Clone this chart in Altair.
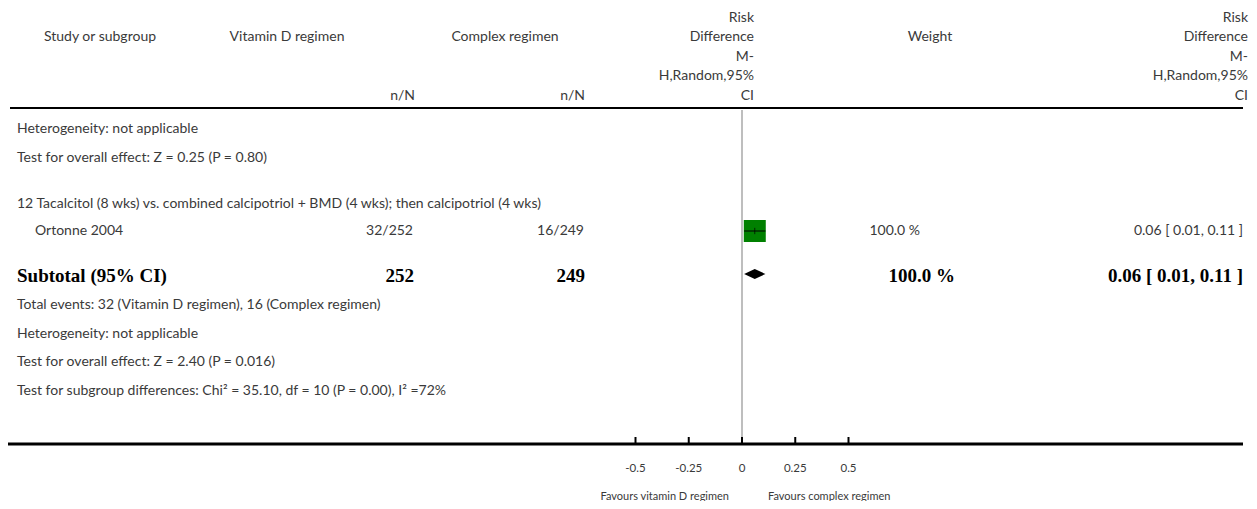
import altair as alt
import pandas as pd

# ---------------- data ----------------
col_study = "Study or subgroup"
col_exp = "Vitamin D regimen"
col_ctl = "Complex regimen"
col_weight = "Weight"
nN_label = "n/N"
rd_header_lines = ["Risk", "Difference", "M-", "H,Random,95%", "CI"]

pre_lines = ["Heterogeneity: not applicable",
             "Test for overall effect: Z = 0.25 (P = 0.80)"]
subgroup_title = "12 Tacalcitol (8 wks) vs. combined calcipotriol + BMD (4 wks); then calcipotriol (4 wks)"

studies = ["Ortonne 2004"]
vitd_events = [32]
vitd_total = [252]
comp_events = [16]
comp_total = [249]
weights = [100.0]
rd_est = [0.06]
rd_lo = [0.01]
rd_hi = [0.11]

subtotal_label = "Subtotal (95% CI)"
subtotal_n1 = [252]
subtotal_n2 = [249]
subtotal_weight = [100.0]
subtotal_est = [0.06]
subtotal_lo = [0.01]
subtotal_hi = [0.11]

post_lines = ["Total events: 32 (Vitamin D regimen), 16 (Complex regimen)",
              "Heterogeneity: not applicable",
              "Test for overall effect: Z = 2.40 (P = 0.016)",
              "Test for subgroup differences: Chi\u00b2 = 35.10, df = 10 (P = 0.00), I\u00b2 =72%"]

tick_values = [-0.5, -0.25, 0, 0.25, 0.5]
tick_labels = ["-0.5", "-0.25", "0", "0.25", "0.5"]
favours_left = "Favours vitamin D regimen"
favours_right = "Favours complex regimen"

# ---------------- layout (page pixels) ----------------
W, H = 1241, 493
M = 8
PX_PER_UNIT = 213.0
ZERO_X = 742.0
d0 = -(ZERO_X - M) / PX_PER_UNIT
d1 = (M + W - ZERO_X) / PX_PER_UNIT

HDR = [18, 37, 57, 76, 96]
Y_PRE = [129, 158]
Y_TITLE = 204
Y_STUDY = [231]
Y_SUB = 276
Y_POST = [305, 334, 362, 391]
Y_HEAD_LINE = 108
Y_AXIS = 444
Y_TICKLAB = 469
Y_FAV = 497

TXT = "#3a3a3a"
SANS = "Lato"
SERIF = "Liberation Serif"
FS = 14
BFS = 19

xs = alt.Scale(domain=[d0, d1], nice=False, zero=False)
ys = alt.Scale(domain=[0, H], reverse=True, nice=False, zero=False)


def Y(field="y"):
    return alt.Y(f"{field}:Q", scale=ys, axis=None)


def X(field="v"):
    return alt.X(f"{field}:Q", scale=xs, axis=None)


def text_layer(texts, ys_page, x_page, align="left", font=SANS, size=FS,
               weight="normal", color=TXT):
    df = pd.DataFrame({"t": texts, "y": [yy - M for yy in ys_page]})
    return alt.Chart(df).mark_text(
        align=align, baseline="middle", font=font, fontSize=size,
        fontWeight=weight, color=color
    ).encode(x=alt.value(x_page - M), y=Y(), text="t:N")


layers = []

# header
layers.append(text_layer([col_study], [HDR[1]], 100, align="center"))
layers.append(text_layer([col_exp], [HDR[1]], 287, align="center"))
layers.append(text_layer([nN_label], [HDR[4]], 415, align="right"))
layers.append(text_layer([col_ctl], [HDR[1]], 505, align="center"))
layers.append(text_layer([nN_label], [HDR[4]], 585, align="right"))
layers.append(text_layer(rd_header_lines, HDR, 754, align="right"))
layers.append(text_layer([col_weight], [HDR[1]], 930, align="center"))
layers.append(text_layer(rd_header_lines, HDR, 1248, align="right"))

# lines
layers.append(alt.Chart(pd.DataFrame({"y": [Y_HEAD_LINE - M]})).mark_rule(
    color="black", strokeWidth=2).encode(x=alt.value(2), x2=alt.value(1235), y=Y()))
layers.append(alt.Chart(pd.DataFrame({"y": [Y_AXIS - M]})).mark_rule(
    color="black", strokeWidth=3).encode(x=alt.value(0), x2=alt.value(1235), y=Y()))

# zero line
layers.append(alt.Chart(pd.DataFrame({"v": [0], "y": [Y_HEAD_LINE + 2 - M], "y2": [Y_AXIS - M]})).mark_rule(
    color="#a8a8a8", strokeWidth=1.5).encode(x=X(), y=Y(), y2="y2:Q"))

# ticks
tick_df = pd.DataFrame({"v": tick_values, "lab": tick_labels,
                        "y": [Y_AXIS - 7 - M] * len(tick_values),
                        "y2": [Y_AXIS - M] * len(tick_values),
                        "yl": [Y_TICKLAB - M] * len(tick_values)})
layers.append(alt.Chart(tick_df).mark_rule(color="black", strokeWidth=2).encode(
    x=X(), y=Y(), y2="y2:Q"))
layers.append(alt.Chart(tick_df).mark_text(
    font=SANS, fontSize=11.5, color=TXT, baseline="middle", align="center").encode(
    x=X(), y=Y("yl"), text="lab:N"))
layers.append(text_layer([favours_left], [Y_FAV], 729, align="right", size=11))
layers.append(text_layer([favours_right], [Y_FAV], 768, align="left", size=11))

# text rows
layers.append(text_layer(pre_lines, Y_PRE, 17))
layers.append(text_layer([subgroup_title], [Y_TITLE], 17))
layers.append(text_layer(studies, Y_STUDY, 35))
layers.append(text_layer([f"{e}/{n}" for e, n in zip(vitd_events, vitd_total)], Y_STUDY, 413, align="right"))
layers.append(text_layer([f"{e}/{n}" for e, n in zip(comp_events, comp_total)], Y_STUDY, 584, align="right"))
layers.append(text_layer([f"{w:.1f} %" for w in weights], Y_STUDY, 920, align="right"))
layers.append(text_layer([f"{e:.2f} [ {l:.2f}, {h:.2f} ]" for e, l, h in zip(rd_est, rd_lo, rd_hi)],
                         Y_STUDY, 1243, align="right"))

# study box + CI
study_df = pd.DataFrame({"v": rd_est, "lo": rd_lo, "hi": rd_hi, "w": weights,
                         "y": [yy - M for yy in Y_STUDY]})
study_df["size"] = study_df["w"] / 100.0 * 22 * 22
layers.append(alt.Chart(study_df).mark_square(color="#008000", opacity=1).encode(
    x=X(), y=Y(), size=alt.Size("size:Q", scale=None, legend=None)))
layers.append(alt.Chart(study_df).mark_rule(color="black", strokeWidth=1).encode(
    x=X("lo"), x2="hi:Q", y=Y()))
layers.append(alt.Chart(study_df).mark_point(shape="stroke", color="black", size=40, strokeWidth=1,
                                             angle=90).encode(x=X(), y=Y()))

# subtotal row
layers.append(text_layer([subtotal_label], [Y_SUB], 17, font=SERIF, size=BFS, weight="bold", color="black"))
layers.append(text_layer([str(n) for n in subtotal_n1], [Y_SUB], 414, align="right", font=SERIF, size=BFS,
                         weight="bold", color="black"))
layers.append(text_layer([str(n) for n in subtotal_n2], [Y_SUB], 585, align="right", font=SERIF, size=BFS,
                         weight="bold", color="black"))
layers.append(text_layer([f"{w:.1f} %" for w in subtotal_weight], [Y_SUB], 955, align="right", font=SERIF,
                         size=BFS, weight="bold", color="black"))
layers.append(text_layer([f"{e:.2f} [ {l:.2f}, {h:.2f} ]" for e, l, h in
                          zip(subtotal_est, subtotal_lo, subtotal_hi)], [Y_SUB], 1243, align="right",
                         font=SERIF, size=BFS, weight="bold", color="black"))

# diamond
half = 5
dia_df = pd.DataFrame({
    "v": [subtotal_lo[0], subtotal_est[0], subtotal_hi[0]],
    "y": [Y_SUB - 2 - M, Y_SUB - 2 - half - M, Y_SUB - 2 - M],
    "y2": [Y_SUB - 2 - M, Y_SUB - 2 + half - M, Y_SUB - 2 - M],
})
layers.append(alt.Chart(dia_df).mark_area(color="black", orient="vertical", opacity=1).encode(
    x=X(), y=Y(), y2="y2:Q"))

# post lines
layers.append(text_layer(post_lines, Y_POST, 17))

chart = alt.layer(*layers).properties(
    width=W, height=H, padding=0,
    autosize=alt.AutoSizeParams(type="none")
).configure_view(strokeWidth=0)

chart.save("out.html", embed_options={"renderer": "svg", "actions": False})
